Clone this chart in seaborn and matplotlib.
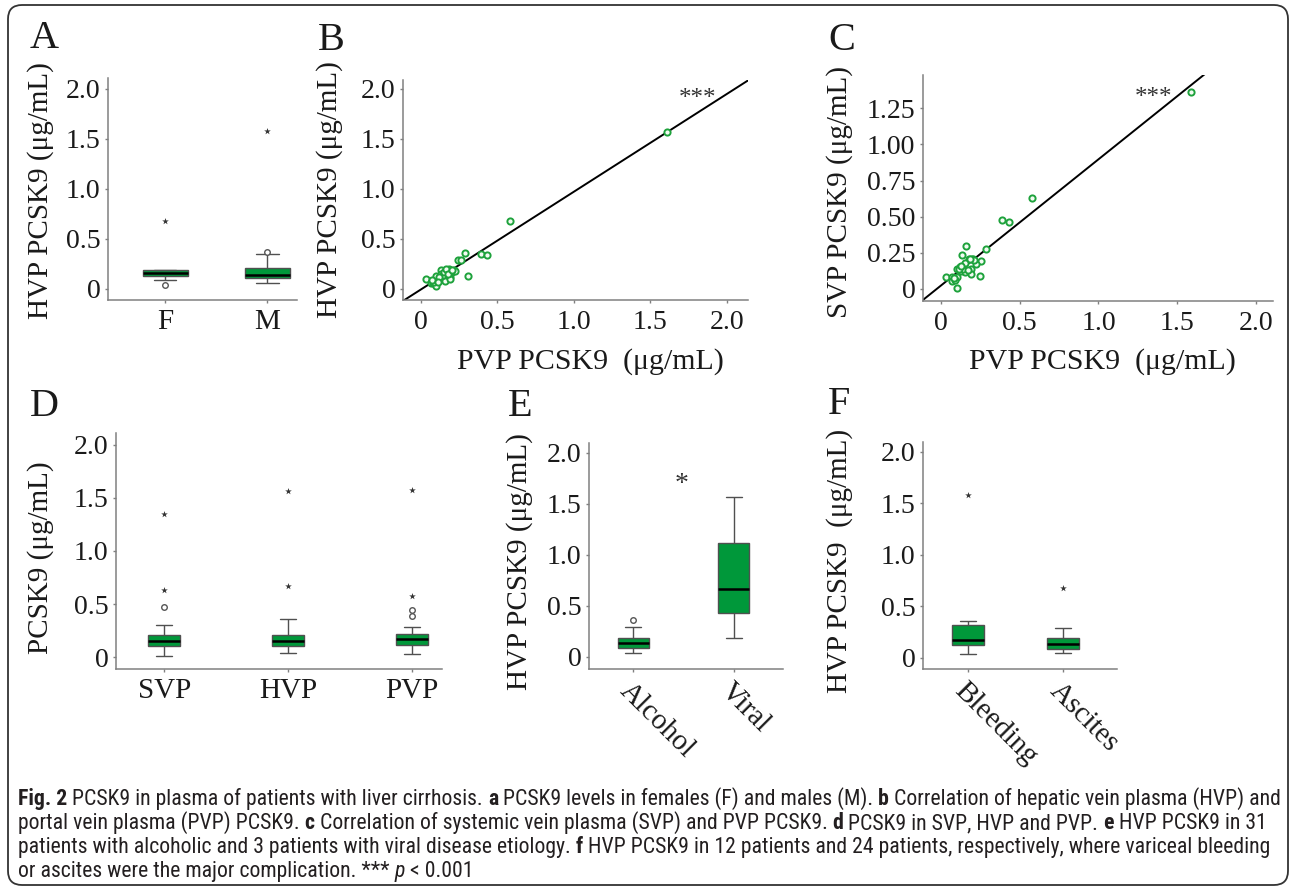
import numpy as np
import pandas as pd
import matplotlib
matplotlib.use("Agg")
import matplotlib.pyplot as plt
from matplotlib import font_manager
from matplotlib.patches import FancyBboxPatch
import seaborn as sns

W, H = 1290, 889

# ---- values ----
# box panels: whisker low, Q1, median, Q3, whisker high (ug/mL)
sex_groups = ["F", "M"]
sex_stats = [[0.09, 0.13, 0.16, 0.19, 0.19], [0.06, 0.11, 0.14, 0.21, 0.35]]
sex_circles = [[0.04], [0.37]]
sex_stars = [[0.68], [1.58]]

vein_groups = ["SVP", "HVP", "PVP"]
vein_stats = [[0.01, 0.10, 0.15, 0.21, 0.30],
              [0.04, 0.10, 0.15, 0.21, 0.36],
              [0.03, 0.11, 0.17, 0.22, 0.28]]
vein_circles = [[0.47], [], [0.39, 0.44]]
vein_stars = [[0.63, 1.35], [0.67, 1.57], [0.575, 1.58]]

etio_groups = ["Alcohol", "Viral"]
etio_stats = [[0.035, 0.085, 0.135, 0.19, 0.29], [0.19, 0.43, 0.67, 1.12, 1.57]]
etio_circles = [[0.36], []]
etio_stars = [[], []]

comp_groups = ["Bleeding", "Ascites"]
comp_stats = [[0.035, 0.13, 0.17, 0.32, 0.36], [0.05, 0.085, 0.14, 0.19, 0.29]]
comp_circles = [[], []]
comp_stars = [[1.58], [0.68]]

# scatter panels
pvp_b = [1.61, 0.58, 0.29, 0.39, 0.43, 0.24, 0.26, 0.31, 0.03, 0.13, 0.155, 0.18,
         0.20, 0.215, 0.19, 0.16, 0.10, 0.07, 0.065, 0.08, 0.10, 0.13, 0.145, 0.19,
         0.205, 0.22, 0.15, 0.165, 0.085, 0.075, 0.12, 0.175, 0.20, 0.11]
hvp_b = [1.57, 0.68, 0.36, 0.35, 0.345, 0.29, 0.29, 0.13, 0.105, 0.19, 0.16, 0.20,
         0.17, 0.195, 0.12, 0.085, 0.13, 0.08, 0.06, 0.065, 0.035, 0.155, 0.14, 0.105,
         0.18, 0.18, 0.17, 0.205, 0.075, 0.09, 0.12, 0.15, 0.19, 0.07]

pvp_c = [1.59, 0.58, 0.385, 0.435, 0.285, 0.16, 0.135, 0.255, 0.22, 0.195, 0.18, 0.15,
         0.12, 0.105, 0.13, 0.155, 0.19, 0.19, 0.245, 0.03, 0.07, 0.07, 0.10, 0.10,
         0.09, 0.12, 0.14, 0.205, 0.115, 0.17, 0.21, 0.08, 0.125, 0.185]
svp_c = [1.365, 0.63, 0.48, 0.465, 0.28, 0.30, 0.235, 0.195, 0.175, 0.205, 0.205, 0.18,
         0.155, 0.135, 0.125, 0.12, 0.14, 0.105, 0.09, 0.085, 0.085, 0.055, 0.085, 0.005,
         0.065, 0.15, 0.14, 0.205, 0.14, 0.13, 0.20, 0.075, 0.16, 0.21]

conc_ticks = [0, 0.5, 1.0, 1.5, 2.0]
conc_labels = ["0", "0.5", "1.0", "1.5", "2.0"]
svp_ticks = [0, 0.25, 0.5, 0.75, 1.0, 1.25]
svp_labels = ["0", "0.25", "0.50", "0.75", "1.00", "1.25"]

caption = [
    [("Fig. 2", "b"), ("PCSK9 in plasma of patients with liver cirrhosis.", "n"), ("a", "b"),
     ("PCSK9 levels in females (F) and males (M).", "n"), ("b", "b"),
     ("Correlation of hepatic vein plasma (HVP) and", "n")],
    [("portal vein plasma (PVP) PCSK9.", "n"), ("c", "b"),
     ("Correlation of systemic vein plasma (SVP) and PVP PCSK9.", "n"), ("d", "b"),
     ("PCSK9 in SVP, HVP and PVP.", "n"), ("e", "b"), ("HVP PCSK9 in 31", "n")],
    [("patients with alcoholic and 3 patients with viral disease etiology.", "n"), ("f", "b"),
     ("HVP PCSK9 in 12 patients and 24 patients, respectively, where variceal bleeding", "n")],
    [("or ascites were the major complication. ***", "n"), ("p", "i"), ("< 0.001", "n")],
]

# ---- style ----
sns.set_theme(style="ticks")
plt.rcParams["font.family"] = ["Liberation Serif", "DejaVu Serif"]
GREEN = "#00983a"
PT_GREEN = "#1ea23c"
AX_GRAY = "#808080"
TXT = "#1a1a1a"

fig = plt.figure(figsize=(W / 100, H / 100), dpi=100)


def px_axes(l, t, r, b):
    return fig.add_axes([l / W, 1 - b / H, (r - l) / W, (b - t) / H])


def tidy(ax, xlim, ylim):
    ax.set_xlim(xlim)
    ax.set_ylim(ylim)
    ax.set_xlabel("")
    ax.set_ylabel("")
    sns.despine(ax=ax)
    for s in ["left", "bottom"]:
        ax.spines[s].set_color(AX_GRAY)
        ax.spines[s].set_linewidth(1.1)
    ax.tick_params(colors=AX_GRAY, labelcolor=TXT, length=2.5, width=1, pad=3, labelsize=20)


def box_panel(ax, groups, stats, circles, stars, width, xlim, ylim):
    long = pd.DataFrame({"group": np.repeat(groups, 5), "value": np.concatenate(stats)})
    sns.boxplot(data=long, x="group", y="value", order=groups, width=width, whis=(0, 100),
                showfliers=False, color=GREEN, saturation=1, linecolor="#505050",
                linewidth=1, medianprops={"color": "black", "linewidth": 1.8}, ax=ax)
    circ = pd.DataFrame([(g, v) for g, vals in zip(groups, circles) for v in vals],
                        columns=["group", "value"])
    if len(circ):
        sns.stripplot(data=circ, x="group", y="value", order=groups, jitter=False,
                      marker="o", size=4, color="white", edgecolor="#555555",
                      linewidth=1, ax=ax)
    star = pd.DataFrame([(g, v) for g, vals in zip(groups, stars) for v in vals],
                        columns=["group", "value"])
    if len(star):
        sns.stripplot(data=star, x="group", y="value", order=groups, jitter=False,
                      marker="*", size=5, color="#333333", linewidth=0, ax=ax)
    tidy(ax, xlim, ylim)
    ax.set_yticks(conc_ticks, conc_labels)
    ax.tick_params(axis="x", labelsize=21, pad=4)


def scatter_panel(ax, x, y, xlim, ylim, yticks, ylabels):
    ax.set_xlim(xlim)
    ax.set_ylim(ylim)
    sns.regplot(x=np.array(x), y=np.array(y), ci=None, truncate=False, scatter=False,
                color="black", line_kws={"linewidth": 1.4}, ax=ax)
    sns.scatterplot(x=x, y=y, s=20, color="#f2fbf2", edgecolor=PT_GREEN, linewidth=1.4,
                    zorder=3, ax=ax)
    tidy(ax, xlim, ylim)
    ax.set_xticks(conc_ticks, conc_labels)
    ax.set_yticks(yticks, ylabels)
    ax.tick_params(axis="x", pad=5)


# A
ax_a = px_axes(108, 78, 297, 300)
box_panel(ax_a, sex_groups, sex_stats, sex_circles, sex_stars, 0.44, (-0.56, 1.29), (-0.11, 2.11))
# B
ax_b = px_axes(403, 80, 748, 300)
scatter_panel(ax_b, pvp_b, hvp_b, (-0.118, 2.14), (-0.11, 2.09), conc_ticks, conc_labels)
# C
ax_c = px_axes(923, 75, 1273, 301)
scatter_panel(ax_c, pvp_c, svp_c, (-0.114, 2.108), (-0.083, 1.48), svp_ticks, svp_labels)
# D
ax_d = px_axes(116, 433, 442, 669)
box_panel(ax_d, vein_groups, vein_stats, vein_circles, vein_stars, 0.26, (-0.39, 2.24), (-0.113, 2.113))
# E
ax_e = px_axes(589, 443, 783, 669)
box_panel(ax_e, etio_groups, etio_stats, etio_circles, etio_stars, 0.31, (-0.44, 1.49), (-0.118, 2.098))
# F
ax_f = px_axes(923, 442, 1117, 669)
box_panel(ax_f, comp_groups, comp_stats, comp_circles, comp_stars, 0.34, (-0.47, 1.57), (-0.107, 2.097))

for ax in (ax_e, ax_f):
    plt.setp(ax.get_xticklabels(), rotation=-45, ha="left", va="top", rotation_mode="anchor")


def ftext(x, y, s, **kw):
    return fig.text(x / W, 1 - y / H, s, **kw)


# panel letters
for letter, x, y in [("A", 30, 48), ("B", 318, 50), ("C", 828, 50),
                     ("D", 30, 416), ("E", 508, 416), ("F", 828, 414)]:
    ftext(x, y, letter, fontsize=29, va="baseline", color=TXT)

# axis titles
ylab = dict(rotation=90, ha="center", va="center", fontsize=21, color=TXT)
ftext(41, 191, "HVP PCSK9 (μg/mL)", **ylab)
ftext(330, 190, "HVP PCSK9 (μg/mL)", **ylab)
ftext(840, 192, "SVP PCSK9 (μg/mL)", **ylab)
ftext(41, 558, "PCSK9 (μg/mL)", **ylab)
ftext(520, 562, "HVP PCSK9 (μg/mL)", **ylab)
ftext(840, 561, "HVP PCSK9  (μg/mL)", **ylab)
ftext(590, 362, "PVP PCSK9  (μg/mL)", ha="center", va="center", fontsize=21.5, color=TXT)
ftext(1102, 362, "PVP PCSK9  (μg/mL)", ha="center", va="center", fontsize=21.5, color=TXT)

# significance marks
ftext(698, 99, "***", ha="center", va="center", fontsize=18, color="#333333")
ftext(1154, 98, "***", ha="center", va="center", fontsize=18, color="#333333")
ftext(682, 485, "*", ha="center", va="center", fontsize=20, color="#333333")

# caption
names = {f.name for f in font_manager.fontManager.ttflist}
cap_font = next((n for n in ["Roboto Condensed", "Noto Sans Condensed", "Open Sans Condensed",
                             "Liberation Sans Narrow", "Noto Sans", "Open Sans"] if n in names),
                "DejaVu Sans")
renderer = fig.canvas.get_renderer()


def run_width(s, size, style):
    t = fig.text(0, 0, s, fontsize=size, family=cap_font,
                 fontweight="bold" if style == "b" else "normal",
                 fontstyle="italic" if style == "i" else "normal")
    w = t.get_window_extent(renderer).width
    t.remove()
    return w


def line_width(runs, size):
    space = run_width("a a", size, "n") - run_width("aa", size, "n")
    return sum(run_width(s, size, st) for s, st in runs) + space * (len(runs) - 1), space


w10, _ = line_width(caption[0], 10)
cap_size = 10 * 1258 / w10
_, space_w = line_width(caption[0], cap_size)

for runs, base in zip(caption, [805, 829, 853, 877]):
    x = 18
    for s, st in runs:
        t = ftext(x, base, s, fontsize=cap_size, family=cap_font, va="baseline", color="#231f20",
                  fontweight="bold" if st == "b" else "normal",
                  fontstyle="italic" if st == "i" else "normal")
        x += t.get_window_extent(renderer).width + space_w

# rounded frame around the figure
frame = FancyBboxPatch((0.08, 0.04), 12.8, 8.8, boxstyle="round,pad=0,rounding_size=0.14",
                       transform=fig.dpi_scale_trans, fill=False, edgecolor="#333333",
                       linewidth=1.3)
fig.patches.append(frame)

fig.savefig("out.png", dpi=100)
